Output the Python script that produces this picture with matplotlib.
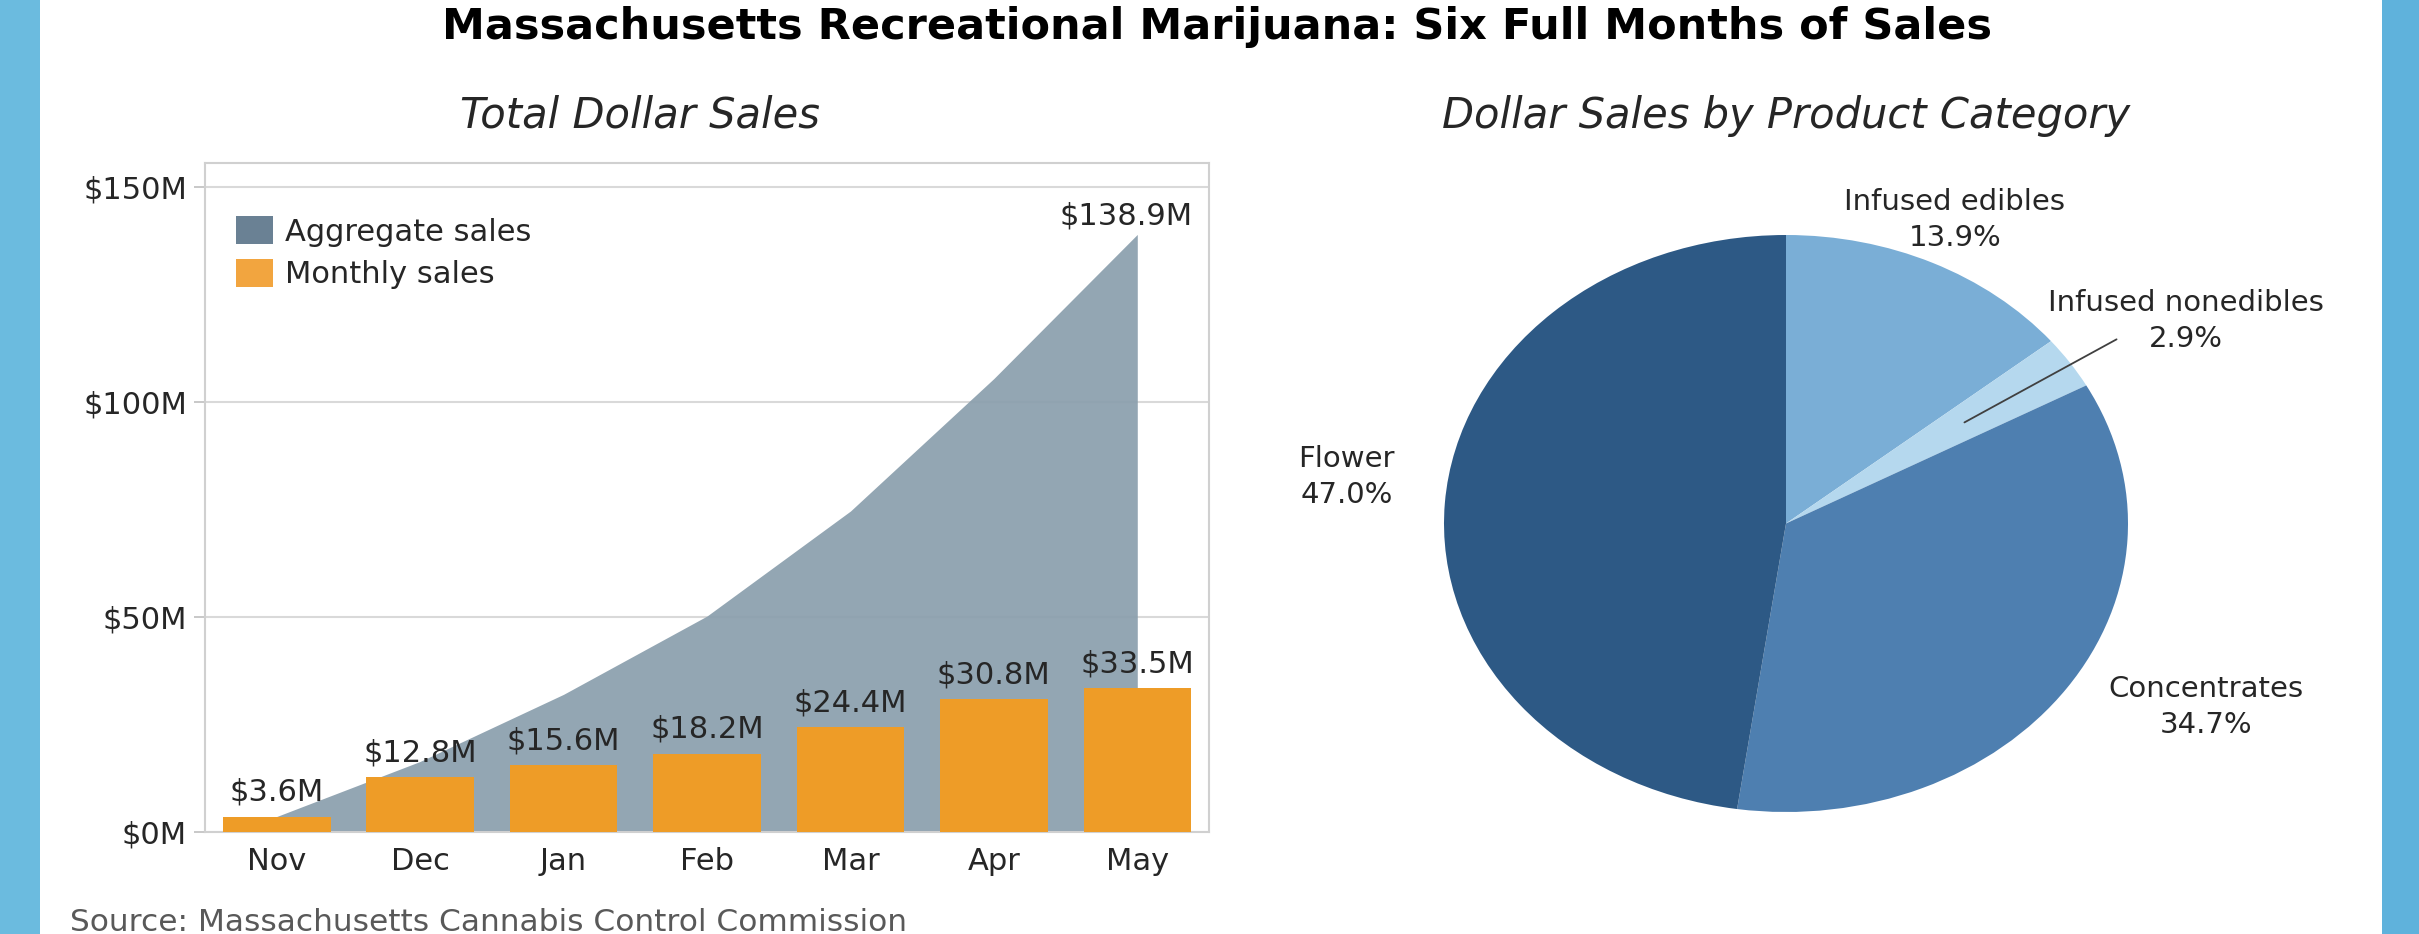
import numpy as np
import matplotlib
matplotlib.use("Agg")
import matplotlib.pyplot as plt
from matplotlib.patches import Rectangle, Patch
from matplotlib.ticker import FuncFormatter

# data
months = ["Nov", "Dec", "Jan", "Feb", "Mar", "Apr", "May"]
monthly_sales = [3.6, 12.8, 15.6, 18.2, 24.4, 30.8, 33.5]  # $M
aggregate_sales = np.cumsum(monthly_sales)                 # 138.9 at May

categories = ["Infused edibles", "Infused nonedibles", "Concentrates", "Flower"]
shares = [13.9, 2.9, 34.7, 47.0]  # percent

W, H = 2419, 934
fig = plt.figure(figsize=(W / 100, H / 100), dpi=100)
fig.patch.set_facecolor("white")


def fx(x):
    return x / W


def fy(y):
    return 1 - y / H


# blue side strips of the slide
fig.patches.append(Rectangle((0, 0), fx(40), 1, transform=fig.transFigure,
                             facecolor="#6bbbdf", edgecolor="none"))
fig.patches.append(Rectangle((fx(2382), 0), 1 - fx(2382), 1, transform=fig.transFigure,
                             facecolor="#5fb2dc", edgecolor="none"))

text_color = "#262626"
small = 22

fig.text(fx(1217), fy(39), "Massachusetts Recreational Marijuana: Six Full Months of Sales",
         ha="center", va="baseline", fontsize=31, fontweight="bold", color="black")
fig.text(fx(640), fy(128), "Total Dollar Sales", ha="center", va="baseline",
         fontsize=30, style="italic", color=text_color)
fig.text(fx(1786), fy(128), "Dollar Sales by Product Category", ha="center", va="baseline",
         fontsize=30, style="italic", color=text_color)
fig.text(fx(70), fy(931), "Source: Massachusetts Cannabis Control Commission",
         ha="left", va="baseline", fontsize=22.5, color="#595959")

# ---- left: total dollar sales ----
ax = fig.add_axes([fx(205), fy(832), fx(1209) - fx(205), (832 - 163) / H])
x = np.arange(len(months))

ax.fill_between(x, 0, aggregate_sales, color="#8b9fad", alpha=0.93, linewidth=0, zorder=2)
bars = ax.bar(x, monthly_sales, width=0.75, color="#ee9c27", zorder=3)
ax.bar_label(bars, labels=[f"${v}M" for v in monthly_sales], padding=7,
             fontsize=small, color=text_color)
ax.annotate(f"${aggregate_sales[-1]:.1f}M", xy=(x[-1], aggregate_sales[-1]),
            xytext=(40, 3), textcoords="offset points", ha="right", va="bottom",
            fontsize=small, color=text_color)

ax.set_xlim(-0.5, len(months) - 0.5)
ax.set_ylim(0, 155.5)
ax.set_yticks([0, 50, 100, 150])
ax.yaxis.set_major_formatter(FuncFormatter(lambda v, _: f"${v:.0f}M"))
ax.set_xticks(x)
ax.set_xticklabels(months)
ax.grid(axis="y", color="#d9d9d9", linewidth=1.5, zorder=1)
ax.set_axisbelow(True)
ax.tick_params(axis="y", length=8, width=1.2, color="#bfbfbf", pad=5,
               labelsize=small, labelcolor=text_color)
ax.tick_params(axis="x", length=0, pad=11, labelsize=small, labelcolor=text_color)
for s in ax.spines.values():
    s.set_color("#d0d0d0")
    s.set_linewidth(1.5)

handles = [Patch(facecolor="#6a8194", label="Aggregate sales"),
           Patch(facecolor="#f2a53f", label="Monthly sales")]
fig.legend(handles=handles, loc="upper left", bbox_to_anchor=(fx(236), fy(216)),
           frameon=False, fontsize=small, borderpad=0, borderaxespad=0,
           handlelength=1.2, handleheight=1.05, handletextpad=0.4,
           labelspacing=0.4, labelcolor=text_color)

# ---- right: product category pie ----
pax = fig.add_axes([fx(1444), fy(812), fx(2128) - fx(1444), (812 - 235) / H])
pie_colors = ["#7aaed6", "#b5d8ee", "#4e7fb0", "#2d5985"]
wedges, _ = pax.pie(shares, colors=pie_colors, startangle=90, counterclock=False,
                    wedgeprops=dict(linewidth=0))
pax.set_aspect("auto")
pax.set_xlim(-1, 1)
pax.set_ylim(-1, 1)

labels = [f"{c}\n{p:.1f}%" for c, p in zip(categories, shares)]
label_pos = [(1955, 220, "center"), (2186, 321, "center"),
             (2206, 707, "center"), (1298, 477, "left")]
for lab, (lx, ly, ha) in zip(labels, label_pos):
    fig.text(fx(lx), fy(ly), lab, ha=ha, va="center", multialignment="center",
             fontsize=21, color=text_color, linespacing=1.38)

# leader line for the thin nonedibles slice
w = wedges[1]
mid = np.deg2rad((w.theta1 + w.theta2) / 2)
pax.annotate("", xy=(0.62 * np.cos(mid), 0.62 * np.sin(mid)),
             xytext=(fx(2119), fy(338)), textcoords="figure fraction",
             arrowprops=dict(arrowstyle="-", color="#404040", linewidth=1.3))

fig.savefig("out.png", dpi=100)
